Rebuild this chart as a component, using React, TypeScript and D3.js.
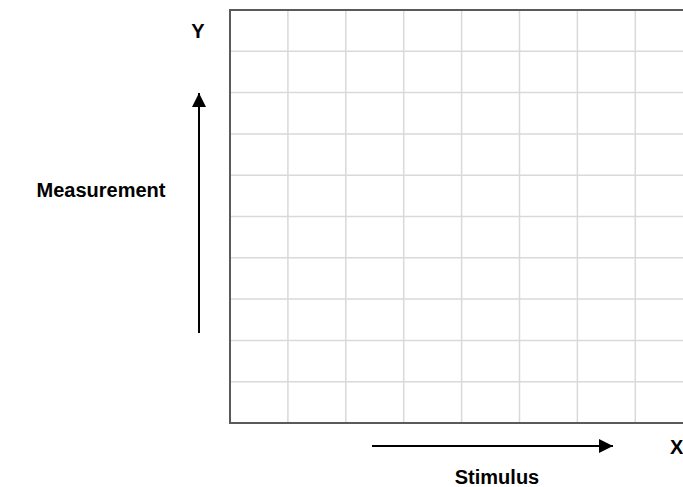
import React from "react";
import * as d3 from "d3";

const xGridTicks = [0, 1, 2, 3, 4, 5, 6, 7, 8];
const yGridTicks = [0, 1, 2, 3, 4, 5, 6, 7, 8, 9, 10];
const xAxisLabel = "Stimulus";
const yAxisLabel = "Measurement";
const xLetter = "X";
const yLetter = "Y";

const W = 683;
const H = 487;

export default function App() {
  const left = 230;
  const top = 10;
  const bottom = 423;
  const cell = 57.9;
  const x = d3.scaleLinear().domain([0, 8]).range([left, left + 8 * cell]);
  const y = d3.scaleLinear().domain([0, 10]).range([bottom, top]);
  const font = "'Liberation Sans', Arial, sans-serif";

  return (
    <svg
      width={W}
      height={H}
      style={{ position: "absolute", left: 0, top: 0, background: "#fff" }}
    >
      <defs>
        <marker
          id="ah"
          viewBox="0 0 10 10"
          refX="10"
          refY="5"
          markerWidth="7"
          markerHeight="7"
          markerUnits="strokeWidth"
          orient="auto"
        >
          <path d="M0,0 L10,5 L0,10 Z" fill="#000" />
        </marker>
      </defs>
      <g>
        {xGridTicks.slice(1).map((t) => (
          <line key={"gx" + t} x1={x(t)} x2={x(t)} y1={top} y2={bottom} stroke="#d9d9d9" strokeWidth={1.5} />
        ))}
        {yGridTicks.slice(1, -1).map((t) => (
          <line key={"gy" + t} x1={left} x2={x(8)} y1={y(t)} y2={y(t)} stroke="#d9d9d9" strokeWidth={1.5} />
        ))}
      </g>
      <path
        d={`M${x(8)},${y(10)} L${x(0)},${y(10)} L${x(0)},${y(0)} L${x(8)},${y(0)}`}
        fill="none"
        stroke="#5a5a5a"
        strokeWidth={2}
      />
      <line x1={199} y1={333} x2={199} y2={93} stroke="#000" strokeWidth={2} markerEnd="url(#ah)" />
      <line x1={372} y1={446} x2={613} y2={446} stroke="#000" strokeWidth={2} markerEnd="url(#ah)" />
      <g fontFamily={font} fontWeight="bold" fontSize={20} fill="#000">
        <text x={198} y={38} textAnchor="middle">{yLetter}</text>
        <text x={101} y={197} textAnchor="middle">{yAxisLabel}</text>
        <text x={670} y={454}>{xLetter}</text>
        <text x={497} y={484} textAnchor="middle">{xAxisLabel}</text>
      </g>
    </svg>
  );
}
